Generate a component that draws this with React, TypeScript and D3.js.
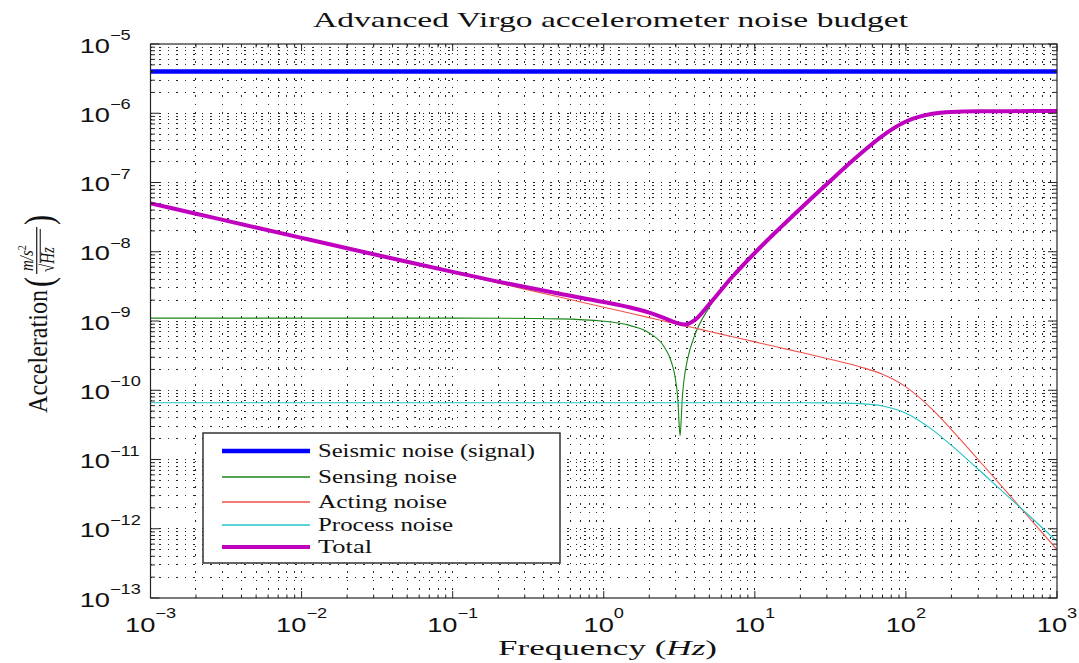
import React from 'react';
import * as d3 from 'd3';

const FREQ = [0.001, 0.002, 0.005, 0.01, 0.02, 0.05, 0.1, 0.2, 0.5, 1, 1.5, 2, 2.5, 2.8, 3.0, 3.1, 3.15, 3.2, 3.25, 3.3, 3.4, 3.6, 4, 5, 7, 10, 15, 20, 30, 50, 70, 100, 150, 200, 300, 500, 700, 1000];

const SEISMIC_FREQ = [0.001, 1000];
const SEISMIC = [4e-6, 4e-6];

const SENSING = [1.1e-9, 1.1e-9, 1.1e-9, 1.1e-9, 1.1e-9, 1.1e-9, 1.099e-9, 1.096e-9, 1.073e-9, 9.93e-10, 8.58e-10, 6.7e-10, 4.29e-10, 2.58e-10, 1.33e-10, 6.77e-11, 3.41e-11, 2.2e-11, 3.47e-11, 6.99e-11, 1.42e-10, 2.92e-10, 6.19e-10, 1.586e-9, 4.16e-9, 9.64e-9, 2.305e-8, 4.18e-8, 9.52e-8, 2.594e-7, 4.717e-7, 7.588e-7, 9.81e-7, 1.042e-6, 1.067e-6, 1.073e-6, 1.074e-6, 1.074e-6];

const ACTING = [5e-8, 3.536e-8, 2.236e-8, 1.581e-8, 1.118e-8, 7.071e-9, 5e-9, 3.536e-9, 2.236e-9, 1.581e-9, 1.291e-9, 1.118e-9, 1.0e-9, 9.45e-10, 9.13e-10, 8.98e-10, 8.91e-10, 8.84e-10, 8.77e-10, 8.7e-10, 8.57e-10, 8.33e-10, 7.91e-10, 7.07e-10, 5.98e-10, 5.0e-10, 4.08e-10, 3.54e-10, 2.88e-10, 2.17e-10, 1.7e-10, 1.118e-10, 5.24e-11, 2.71e-11, 1.008e-11, 2.83e-12, 1.22e-12, 5.0e-13];

const PROCESS = [6.6e-11, 6.6e-11, 6.6e-11, 6.6e-11, 6.6e-11, 6.6e-11, 6.6e-11, 6.6e-11, 6.6e-11, 6.6e-11, 6.6e-11, 6.6e-11, 6.6e-11, 6.6e-11, 6.6e-11, 6.6e-11, 6.6e-11, 6.6e-11, 6.6e-11, 6.6e-11, 6.6e-11, 6.6e-11, 6.6e-11, 6.6e-11, 6.6e-11, 6.6e-11, 6.6e-11, 6.59e-11, 6.57e-11, 6.4e-11, 5.93e-11, 4.67e-11, 2.68e-11, 1.6e-11, 7.29e-12, 2.64e-12, 1.35e-12, 6.6e-13];

const TOTAL = [5.001e-8, 3.537e-8, 2.239e-8, 1.585e-8, 1.123e-8, 7.159e-9, 5.124e-9, 3.707e-9, 2.489e-9, 1.879e-9, 1.564e-9, 1.32e-9, 1.108e-9, 1.002e-9, 9.46e-10, 9.24e-10, 9.16e-10, 9.09e-10, 9.02e-10, 8.97e-10, 8.93e-10, 9.07e-10, 1.026e-9, 1.749e-9, 4.208e-9, 9.655e-9, 2.305e-8, 4.18e-8, 9.52e-8, 2.594e-7, 4.717e-7, 7.588e-7, 9.81e-7, 1.042e-6, 1.067e-6, 1.073e-6, 1.074e-6, 1.074e-6];

const X_TICK_EXP = [-3, -2, -1, 0, 1, 2, 3];
const Y_TICK_EXP = [-13, -12, -11, -10, -9, -8, -7, -6, -5];

const LEGEND_LABELS = ['Seismic noise (signal)', 'Sensing noise', 'Acting noise', 'Process noise', 'Total'];
const LEGEND_WIDTHS = [217, 139, 129, 135, 54];

const TITLE = 'Advanced Virgo accelerometer noise budget';

const COLORS = {
  seismic: '#0000ff',
  sensing: '#1a851a',
  acting: '#f0504a',
  process: '#22c4c4',
  total: '#bf00bf',
};

const SANS = '"Liberation Sans", Arial, Helvetica, sans-serif';
const SERIF = '"Liberation Serif", "Times New Roman", serif';

export default function App() {
  const W = 1079, H = 663;
  const L = 150.5, R = 1057, T = 44, B = 598;
  const x = d3.scaleLog().domain([1e-3, 1e3]).range([L, R]);
  const y = d3.scaleLog().domain([1e-13, 1e-5]).range([B, T]);

  const xVals: { v: number; major: boolean }[] = [];
  for (let e = -3; e < 3; e++) for (let k = 1; k <= 9; k++) xVals.push({ v: k * Math.pow(10, e), major: k === 1 });
  xVals.push({ v: 1e3, major: true });
  const yVals: { v: number; major: boolean }[] = [];
  for (let e = -13; e < -5; e++) for (let k = 1; k <= 9; k++) yVals.push({ v: k * Math.pow(10, e), major: k === 1 });
  yVals.push({ v: 1e-5, major: true });

  const line = (fs: number[], vs: number[]) =>
    d3.line<number>()
      .x((_, i) => x(fs[i]))
      .y((d) => y(d))
      .curve(d3.curveMonotoneX)(vs) || '';

  const series = [
    { d: line(SEISMIC_FREQ, SEISMIC), c: COLORS.seismic, w: 4.5 },
    { d: line(FREQ, SENSING), c: COLORS.sensing, w: 1.1 },
    { d: line(FREQ, ACTING), c: COLORS.acting, w: 1.1 },
    { d: line(FREQ, PROCESS), c: COLORS.process, w: 1.1 },
    { d: line(FREQ, TOTAL), c: COLORS.total, w: 4 },
  ];
  const legendColors = [COLORS.seismic, COLORS.sensing, COLORS.acting, COLORS.process, COLORS.total];
  const legendW = [4.5, 1.3, 1.3, 1.3, 4];
  const legendY = [451, 477, 502, 525, 547];

  const gridStyle = { stroke: '#000', strokeWidth: 1, strokeDasharray: '1.5,7', shapeRendering: 'crispEdges' as const };
  const axisColor = '#262626';

  return (
    <svg width={W} height={H} style={{ position: 'absolute', left: 0, top: 0, background: '#fff' }}>
      <defs>
        <clipPath id="plot">
          <rect x={L} y={T} width={R - L} height={B - T} />
        </clipPath>
      </defs>
      <rect x={0} y={0} width={W} height={H} fill="#fff" />

      {/* grid */}
      <g opacity={0.85}>
        {xVals.filter((t) => t.v > 1e-3 && t.v < 1e3).map((t, i) => (
          <line key={'gx' + i} x1={x(t.v)} x2={x(t.v)} y1={T} y2={B} {...gridStyle} />
        ))}
        {yVals.filter((t) => t.v > 1e-13 && t.v < 1e-5).map((t, i) => (
          <line key={'gy' + i} x1={L} x2={R} y1={y(t.v)} y2={y(t.v)} {...gridStyle} />
        ))}
      </g>

      {/* series */}
      <g clipPath="url(#plot)" fill="none" strokeLinejoin="round" strokeLinecap="butt">
        {series.map((s, i) => (
          <path key={i} d={s.d} stroke={s.c} strokeWidth={s.w} />
        ))}
      </g>

      {/* ticks */}
      <g stroke={axisColor} strokeWidth={1}>
        {xVals.map((t, i) => {
          const len = t.major ? 7 : 3.5;
          const xx = x(t.v);
          return (
            <g key={'tx' + i}>
              <line x1={xx} x2={xx} y1={B} y2={B - len} />
              <line x1={xx} x2={xx} y1={T} y2={T + len} />
            </g>
          );
        })}
        {yVals.map((t, i) => {
          const len = t.major ? 9 : 4.5;
          const yy = y(t.v);
          return (
            <g key={'ty' + i}>
              <line x1={L} x2={L + len} y1={yy} y2={yy} />
              <line x1={R} x2={R - len} y1={yy} y2={yy} />
            </g>
          );
        })}
      </g>
      <rect x={L} y={T} width={R - L} height={B - T} fill="none" stroke={axisColor} strokeWidth={1.2} />

      {/* x tick labels */}
      <g fontFamily={SANS} fill="#111">
        {X_TICK_EXP.map((e) => (
          <g key={'xl' + e} transform={`translate(${x(Math.pow(10, e))},632) scale(1.3,1)`}>
            <text textAnchor="middle" fontSize={21}>
              10<tspan dy={-14} fontSize={14}>{e < 0 ? '\u2212' + Math.abs(e) : String(e)}</tspan>
            </text>
          </g>
        ))}
      </g>

      {/* y tick labels */}
      <g fontFamily={SANS} fill="#111">
        {Y_TICK_EXP.map((e) => (
          <g key={'yl' + e} transform={`translate(110,${y(Math.pow(10, e)) + 8.5}) scale(1.3,1)`}>
            <text textAnchor="end" fontSize={21}>10</text>
            <text x={0} y={-12.5} fontSize={14}>{'\u2212' + Math.abs(e)}</text>
          </g>
        ))}
      </g>

      {/* title */}
      <text x={313} y={27} fontFamily={SERIF} fontSize={21} fill="#111" textLength={595} lengthAdjust="spacingAndGlyphs">
        {TITLE}
      </text>

      {/* x label */}
      <text x={498} y={655} fontFamily={SERIF} fontSize={20} fill="#111" textLength={219} lengthAdjust="spacingAndGlyphs">
        Frequency (<tspan fontStyle="italic">Hz</tspan>)
      </text>

      {/* y label */}
      <g transform="translate(47,413) scale(1.3,1) rotate(-90)" fontFamily={SERIF} fill="#111">
        <text x={0} y={0} fontSize={21} textLength={123} lengthAdjust="spacingAndGlyphs">Acceleration</text>
        <text x={126} y={4} fontSize={30}>(</text>
        <text x={142} y={-10.5} fontSize={15} fontStyle="italic">
          m/s<tspan dy={-6} fontSize={10} fontStyle="normal">2</tspan>
        </text>
        <line x1={139} x2={186} y1={-7.9} y2={-7.9} stroke="#111" strokeWidth={0.9} />
        <text x={141} y={5.5} fontSize={15}>
          {'\u221A'}<tspan fontStyle="italic">Hz</tspan>
        </text>
        <line x1={150} x2={184} y1={-5.2} y2={-5.2} stroke="#111" strokeWidth={0.8} />
        <text x={188} y={4} fontSize={30}>)</text>
      </g>

      {/* legend */}
      <g>
        <rect x={203} y={433} width={357} height={130} fill="#fff" stroke="#333" strokeWidth={1.5} />
        {LEGEND_LABELS.map((lab, i) => (
          <g key={'lg' + i}>
            <line x1={222} x2={310} y1={legendY[i]} y2={legendY[i]} stroke={legendColors[i]} strokeWidth={legendW[i]} />
            <text x={318} y={legendY[i] + 6} fontFamily={SERIF} fontSize={18.5} fill="#111"
              textLength={LEGEND_WIDTHS[i]} lengthAdjust="spacingAndGlyphs">{lab}</text>
          </g>
        ))}
      </g>
    </svg>
  );
}
